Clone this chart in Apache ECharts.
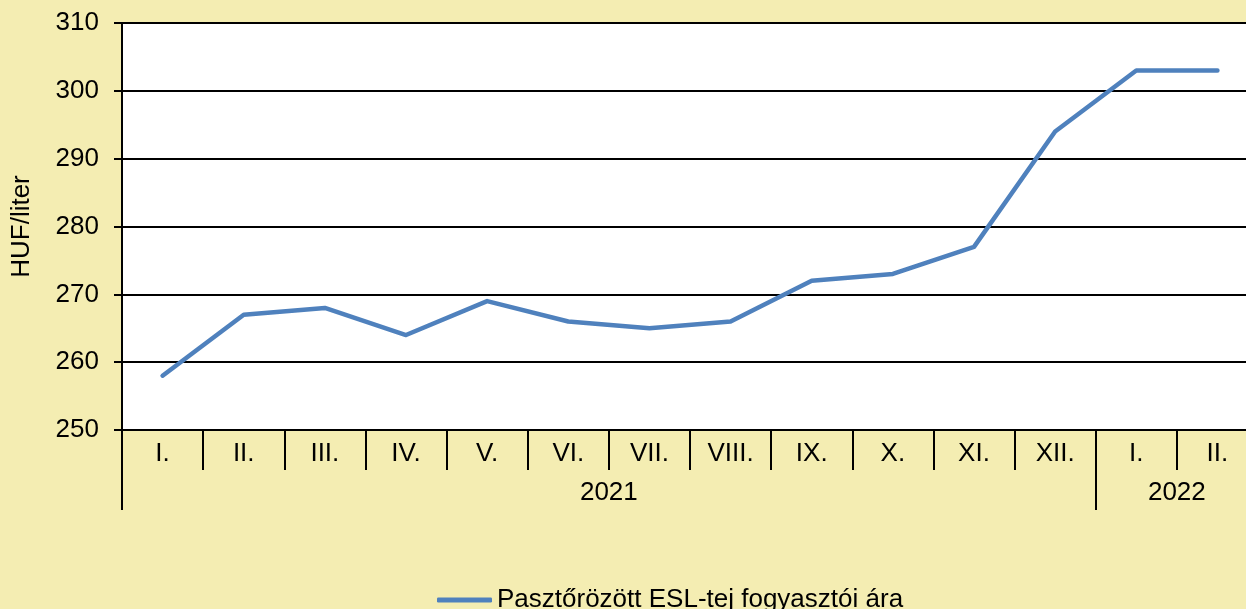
<!DOCTYPE html>
<html><head><meta charset="utf-8">
<script src="https://cdn.jsdelivr.net/npm/echarts@6/dist/echarts.min.js"></script>
<style>html,body{margin:0;padding:0;background:#F4EDB2;}#c{width:1246px;height:609px;}</style>
</head><body><div id="c"></div>
<script>
const months = ['I.','II.','III.','IV.','V.','VI.','VII.','VIII.','IX.','X.','XI.','XII.','I.','II.'];
const prices = [258,267,268,264,269,266,265,266,272,273,277,294,303,303];
const years = ['2021','2022'];
const yearCenters = [6,13];
const yearBounds = [0,12];
const seriesName = 'Pasztőrözött ESL-tej fogyasztói ára';
const yTicks = {min:250,max:310,interval:10};

const chart = echarts.init(document.getElementById('c'));
const font = 'Liberation Sans, Arial, sans-serif';
chart.setOption({
  backgroundColor:'#F4EDB2',
  animation:false,
  grid:{left:122,top:23,width:1136,height:407,backgroundColor:'#fff',show:true,borderWidth:0,outerBoundsMode:'none',containLabel:false},
  xAxis:[{
    type:'category',data:months,boundaryGap:true,position:'bottom',
    axisLine:{show:true,lineStyle:{color:'#000',width:2}},
    axisTick:{show:true,interval:0,length:40,lineStyle:{color:'#000',width:2}},
    axisLabel:{interval:0,color:'#000',fontSize:26,fontFamily:font,margin:11},
    splitLine:{show:false}
  },{
    type:'value',min:0,max:14,position:'bottom',offset:40,
    axisLine:{show:false},
    axisTick:{show:true,length:40,customValues:yearBounds,lineStyle:{color:'#000',width:2}},
    axisLabel:{customValues:yearCenters,color:'#000',fontSize:26,fontFamily:font,margin:10,
      formatter:function(v){const i=yearCenters.indexOf(v);return i>=0?years[i]:'';}},
    splitLine:{show:false}
  }],
  yAxis:{
    type:'value',min:yTicks.min,max:yTicks.max,interval:yTicks.interval,
    name:'HUF/liter',nameLocation:'middle',nameGap:87,
    nameTextStyle:{color:'#000',fontSize:26,fontFamily:font},
    axisLine:{show:true,lineStyle:{color:'#000',width:2}},
    axisTick:{show:true,length:8,lineStyle:{color:'#000',width:2}},
    axisLabel:{color:'#000',fontSize:26,fontFamily:font,margin:23},
    splitLine:{show:true,lineStyle:{color:'#000',width:2}}
  },
  legend:{
    data:[seriesName],left:432,top:582,itemWidth:55,itemHeight:5,icon:'roundRect',
    textStyle:{color:'#000',fontSize:26,fontFamily:font}
  },
  series:[{
    name:seriesName,type:'line',data:prices,xAxisIndex:0,
    symbol:'none',lineStyle:{color:'#4F81BD',width:4.5,cap:'round',join:'round'},
    itemStyle:{color:'#4F81BD'}
  }]
});
</script></body></html>
